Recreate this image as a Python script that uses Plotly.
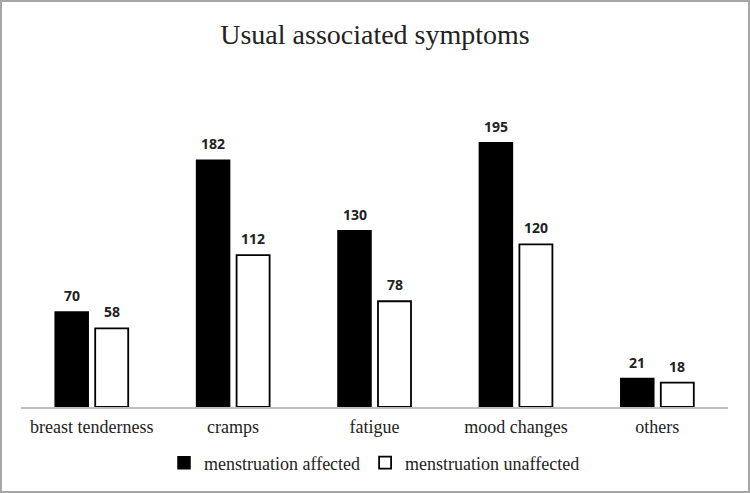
import plotly.graph_objects as go

categories = ["breast tenderness", "cramps", "fatigue", "mood changes", "others"]
affected = [70, 182, 130, 195, 21]
unaffected = [58, 112, 78, 120, 18]
series_names = ["menstruation affected", "menstruation unaffected"]

fig = go.Figure()
fig.add_trace(go.Bar(x=categories, y=affected, name=series_names[0],
                     marker=dict(color="black", line=dict(color="black", width=1.5))))
fig.add_trace(go.Bar(x=categories, y=unaffected, name=series_names[1],
                     marker=dict(color="white", line=dict(color="black", width=1.8))))

ann = []
for i, c in enumerate(categories):
    for vals, sh in ((affected, -20), (unaffected, 20)):
        ann.append(dict(x=c, y=vals[i], text=str(vals[i]), showarrow=False,
                        xshift=sh, yshift=5, yanchor="bottom",
                        font=dict(family="Open Sans", size=14, color="#222222", weight="bold")))

L, R, T, B = 21, 22, 60, 86
W, H = 750, 493
pw, ph = W - L - R, H - T - B
fig.add_shape(type="rect", xref="paper", yref="paper",
              x0=(1 - L) / pw, x1=(W - 1 - L) / pw,
              y0=-(H - 1 - (T + ph)) / ph,
              y1=(T + ph - 1) / ph,
              line=dict(color="#a6a6a6", width=2), fillcolor="rgba(0,0,0,0)")

fig.update_layout(
    width=W, height=H,
    margin=dict(l=L, r=R, t=T, b=B, autoexpand=False),
    paper_bgcolor="white", plot_bgcolor="white",
    title=dict(text="Usual associated symptoms", x=0.5, xanchor="center", y=1 - 34 / H, yanchor="middle",
               font=dict(family="Liberation Serif", size=28, color="#222222")),
    barmode="group", bargap=0.434, bargroupgap=0.175,
    showlegend=True,
    legend=dict(orientation="h", x=0.5, xanchor="center", y=-0.108, yanchor="top",
                font=dict(family="Liberation Serif", size=18, color="#222222"),
                itemwidth=30, traceorder="normal"),
    xaxis=dict(showline=True, linecolor="#bfbfbf", linewidth=1.5, ticks="", showgrid=False,
               ticklabelstandoff=3,
               tickfont=dict(family="Liberation Serif", size=18, color="#222222")),
    yaxis=dict(range=[0, 256], visible=False, showgrid=False, zeroline=False),
    annotations=ann,
)

fig.write_html("out.html", config={"displayModeBar": False},
               post_script="document.body.style.margin='0';")
